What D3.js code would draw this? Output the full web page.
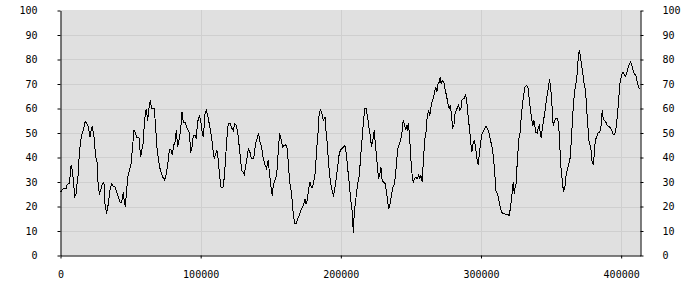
<!DOCTYPE html>
<html>
<head>
<meta charset="utf-8">
<script src="https://cdn.jsdelivr.net/npm/d3@7"></script>
<style>
  body { margin: 0; background: #fff; }
  .tick text { font-family: "DejaVu Sans Mono", monospace; font-size: 10px; fill: #000; }
</style>
</head>
<body>
<div id="chart"></div>
<script>
// sample positions (x) and values (y)
const sampleX = [
  0, 1800, 3900, 4800, 6100, 6800, 7500, 8200, 8900, 9600, 10100, 11100, 11800, 12700, 13400, 14400,
  15100, 16300, 17500, 18700, 19900, 21000, 21800, 22700, 23900, 25100, 26000, 26900, 27700, 28600,
  29800, 31000, 31700, 32900, 34100, 35300, 36500, 37700, 38900, 40100, 41300, 42400, 43600, 44800,
  45500, 46200, 47200, 47900, 49100, 50300, 51200, 52400, 53400, 54300, 56000, 57200, 57900, 58800,
  59600, 60300, 61200, 62200, 63100, 64100, 65000, 66900, 67900, 68800, 69800, 70700, 71700, 72900,
  74100, 75000, 76200, 77200, 77600, 78800, 79800, 80700, 81700, 82600, 83600, 84500, 85700, 86700,
  87600, 88800, 90000, 91200, 92100, 92800, 93800, 94700, 95900, 96900, 97800, 99000, 100000, 100900,
  101900,
  103100, 104000, 105200, 106600, 107800, 108800, 109700, 110700, 111600, 112600, 113500, 114500,
  115900, 116900, 117800, 118800, 119700, 120900, 122100, 123300, 124200, 125400, 126400, 127300,
  128300, 129200, 130200, 131100, 132100, 133000, 134000, 134900, 135900, 136800, 137800, 138700,
  139700, 140600, 141300, 142300, 143500, 144700, 145900, 147000, 148200, 148900, 149900, 151100,
  151800, 153000, 154200, 155400, 156300, 157300, 158500, 159400, 160600, 161800, 162700, 163700,
  164900, 165800, 167000, 168200, 169200, 170300, 171500, 172700, 173700, 174400, 175100, 176100,
  177000, 178000, 178900, 179900, 180800, 181800, 182700, 183700, 184600, 185600, 186500, 187500,
  188700, 189400, 190300, 191300, 192200, 193200, 194100, 194800, 195800, 196700, 197700, 198700,
  199600, 200600, 201700, 202900,
  203900, 204800, 205800, 206700, 207400, 208200, 208900, 209600, 210300, 211300, 212200, 213200,
  214100, 215100, 216000, 217000, 218100, 219100, 220000, 221000, 221900, 222700, 223400, 223800,
  224600, 225500, 226200, 226900, 227900, 228600, 229500, 230700, 231700, 232600, 233300, 234100,
  235200, 236200, 237200, 238100, 239100, 239800, 240700, 241700, 242600, 243600, 244500, 245500,
  246200, 246900, 247400, 248100, 248800, 249500, 250200, 250900, 251700, 252600, 253600, 254500,
  255500, 256400, 257100, 258100, 259000, 260000, 260900, 261600, 262600, 263500, 264300, 265200,
  266200, 267100, 267800, 268500, 269300, 270200, 270900, 271600, 272400, 273500, 274500, 275400,
  276400, 277300, 278100, 279000, 279700, 280700, 281400, 282300, 283300, 284000, 284700, 285700,
  286400, 287300, 288000, 289000, 289900, 290900, 291900, 292800, 293500, 294500, 295400, 296400,
  297300, 298000, 298800, 299700, 300400, 301400, 302600, 303700, 304700, 305800, 306800, 307700,
  308700,
  309700, 310600, 311800, 312800, 313700, 314700, 315900, 317000, 318200, 319400, 320100, 321100,
  322000, 323000, 323700, 324400, 325100, 325800, 326600, 327300, 328000, 328700, 329400, 330400,
  331300, 332500, 333500, 334400, 335400, 336300, 337000, 337800, 338500, 339200, 340100, 340800,
  341500, 342300, 343000, 343700, 344600, 345600, 346500, 347500, 348200, 348900, 349900, 350800,
  351500, 352200, 353200, 354400, 355300, 356100, 356800, 357500, 358200, 358900, 359900, 360800,
  361800, 362700, 363700, 364400, 365100, 365800, 366800, 367700, 368600, 369400, 370100, 370800,
  371700, 372700, 373600, 374600, 375300, 376300, 377200, 378200, 379100, 380000, 380800, 381500,
  382400, 383400, 384800, 385700, 386500, 387200, 388100, 389100, 390000, 391200, 392400, 393300,
  394300, 395200, 396200, 397200, 398100, 399100, 400000, 400900, 401900, 402900, 403800, 404800,
  405800, 406700, 407700, 408600, 409600, 410500, 411500, 412400, 413400
];

const sampleY = [
  25.9, 27.2, 27.2, 29, 29.3, 32, 36.7, 35.4, 32, 27.9, 24.1, 25.2, 29.3, 33.3, 41.5, 46.9,
  49.4, 51, 54.7, 54, 52.4, 48.3, 51, 52.9, 48.3, 40.1, 38.8, 28.6, 25.2, 26.5,
  29.3, 29.9, 21.1, 17, 21.1, 26.5, 29.3, 28.3, 27.9, 25.9, 23.8, 21.8, 21.8, 25.7,
  22.2, 20, 26.5, 32, 34.7, 37.4, 42.9, 51, 50.3, 48.3, 48, 40.1, 42.9, 44.9,
  51.7, 56.7, 59.9, 55.1, 59.9, 63.5, 59.9, 59.9, 52.4, 44.2, 39.5, 36.1, 34, 32,
  30.9, 32, 36.1, 40.1, 43.1, 43.1, 41.2, 44.9, 46.3, 51, 44.2, 46.9, 51, 58.5,
  54.4, 54.4, 52.4, 51, 49.7, 41.8, 44.2, 49, 49, 48, 54.4, 57.1, 55.1, 51,
  48.3,
  57.8, 59.2, 56.5, 52.4, 48.3, 42.9, 39.5, 41.5, 43.1, 38.8, 32.7, 27.9,
  27.9, 32, 40.1, 48.3, 54, 54, 52.1, 51, 53.7, 53.1, 50.3, 45.6,
  40.1, 34.7, 34, 33.1, 36.3, 39.5, 43.5, 42.9, 40.1, 39.5, 39.6, 43.5,
  46.9, 48.3, 49.9, 46.3, 44.2, 39.5, 37.1, 35.4, 38.8, 34.7, 29.3, 24.1,
  28.6, 30.6, 32.7, 42.9, 49.9, 47.6, 44.2, 44.9, 45.3, 43.5, 36.1, 29.3,
  25.2, 18.4, 12.9, 12.9, 15, 16.3, 18.4, 19.7, 21.4, 23.1, 21.1, 22.4,
  27.2, 29.9, 27.9, 27.9, 30.6, 34, 42.9, 49.7, 58.5, 59.6, 57.8, 55.1,
  56.5, 51, 45.6, 37.4, 32, 27.9, 25.9, 24.1, 27.9, 31.3, 36.1, 40.8,
  42.9, 43.5, 44.2, 44.9,
  41.5, 36.1, 30.6, 25.2, 21.1, 17.7, 9.3, 17.7, 21.1, 25.9, 29.9, 32.7,
  40.1, 46.9, 53.7, 59.9, 59.9, 56.5, 52.4, 49, 44.2, 46.9, 49, 51,
  45.6, 40.1, 36.1, 31.3, 33.3, 36.1, 30.6, 29.9, 29.3, 25.9, 22.4, 19,
  21.1, 25.2, 27.9, 29, 33.3, 38.8, 43.5, 45.6, 46.9, 50.3, 55.1, 53.1,
  51.7, 53.1, 51, 54, 50.3, 44.2, 37.4, 32.7, 29.9, 31.3, 32, 31.3,
  32.7, 31.3, 32.7, 29.9, 40.1, 47.6, 51, 56.5, 59.2, 57.1, 60.5, 63.3,
  64.6, 67.3, 68.7, 66.7, 70, 70.7, 72.8, 70, 71.4, 70.7, 67.3, 65.3,
  61.9, 59.9, 61.2, 57.1, 52.1, 53.1, 57.8, 59.2, 60.5, 61.9, 59.2, 59.9,
  63.3, 63.9, 63.9, 66, 62.6, 56.5, 51, 45.6, 42.2, 46.3, 46.9, 42.9,
  38.8, 37.1, 41.5, 45.6, 49, 50.3, 51.7, 52.7, 51.7, 49.7, 46.9, 44.9,
  40.8,
  34.7, 26.5, 25.2, 22.4, 19.7, 17.7, 17, 17, 16.7, 16.7, 16.3, 19.7,
  24.5, 29.9, 25.2, 27.9, 29.3, 37.4, 44.2, 49, 50.3, 56.5, 60.5, 65.3,
  68.7, 69.4, 68.7, 63.9, 59.2, 55.1, 53.1, 55.1, 52.4, 50.3, 49.9, 52.1,
  53.1, 50.3, 48, 51.7, 55.1, 58.5, 62.6, 66.7, 68.7, 72.1, 67.3, 59.9,
  53.1, 54.4, 55.8, 55.8, 54.4, 46.9, 37.4, 33.3, 29.3, 25.9, 27.9, 33.3,
  35.4, 37.4, 40.1, 46.9, 53.7, 60.5, 67.3, 70, 74.1, 80.9, 83.9, 81.6,
  78.2, 74.1, 70, 67.3, 60.5, 52.4, 45.6, 44.9, 38.8, 37.1, 40.8, 46.9,
  48.3, 49.9, 50.3, 53.1, 59.2, 55.8, 55.1, 54.4, 53.1, 52.7, 52.1, 51,
  49.4, 49.4, 51.2, 56.5, 62.6, 70, 72.8, 74.8, 74.4, 73.1, 74.1, 76.2,
  78, 78.9, 77.6, 75.2, 74.1, 73.5, 70.7, 68.7, 68
];

const xTicks = [0, 100000, 200000, 300000, 400000];
const yTicks = [0, 10, 20, 30, 40, 50, 60, 70, 80, 90, 100];

const data = sampleX.map((x, i) => ({x: x, y: sampleY[i]}));

// layout
const W = 700, H = 300;
const plotLeft = 60.5, plotRight = 640.5, plotTop = 10, plotBottom = 255.5;

const svg = d3.select("#chart")
    .append("svg")
    .attr("width", W)
    .attr("height", H);

const x = d3.scaleLinear()
    .domain([0, 413800])
    .range([plotLeft, plotRight]);

const y = d3.scaleLinear()
    .domain([0, 100])
    .range([plotBottom, plotTop + 0.5]);

// plot background
svg.append("rect")
    .attr("x", plotLeft)
    .attr("y", plotTop)
    .attr("width", plotRight - plotLeft)
    .attr("height", plotBottom - plotTop)
    .attr("fill", "#e0e0e0");

// grid
svg.append("g")
    .selectAll("line")
    .data(yTicks.filter(d => d > 0 && d < 100))
    .join("line")
    .attr("x1", plotLeft).attr("x2", plotRight)
    .attr("y1", d => Math.round(y(d)) + 0.5)
    .attr("y2", d => Math.round(y(d)) + 0.5)
    .attr("stroke", "#cfcfcf");

svg.append("g")
    .selectAll("line")
    .data(xTicks.filter(d => d > 0))
    .join("line")
    .attr("x1", d => Math.round(x(d)) + 0.5)
    .attr("x2", d => Math.round(x(d)) + 0.5)
    .attr("y1", plotTop).attr("y2", plotBottom)
    .attr("stroke", "#cfcfcf");

// the line, drawn without anti-aliasing like the original
svg.append("path")
    .datum(data)
    .attr("fill", "none")
    .attr("stroke", "#000")
    .attr("stroke-width", 1)
    .attr("shape-rendering", "crispEdges")
    .attr("d", d3.line().x(d => x(d.x)).y(d => y(d.y)));

// axes
const fmt = d3.format("d");

svg.append("g")
    .attr("transform", `translate(${plotLeft},0)`)
    .call(d3.axisLeft(y).tickValues(yTicks).tickSize(3).tickSizeOuter(0).tickPadding(20).tickFormat(fmt));

svg.append("g")
    .attr("transform", `translate(${plotRight},0)`)
    .call(d3.axisRight(y).tickValues(yTicks).tickSize(3).tickSizeOuter(0).tickPadding(19).tickFormat(fmt));

svg.append("g")
    .attr("transform", `translate(0,${plotBottom})`)
    .call(d3.axisBottom(x).tickValues(xTicks).tickSize(3).tickSizeOuter(0).tickPadding(12).tickFormat(fmt));

svg.selectAll(".domain").attr("stroke", "#000");
svg.selectAll(".tick line").attr("stroke", "#000");
</script>
</body>
</html>
